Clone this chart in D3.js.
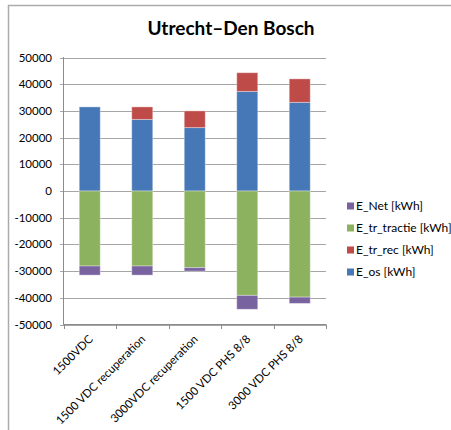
<!DOCTYPE html>
<meta charset="utf-8">
<title>Utrecht-Den Bosch</title>
<style>

body {
  margin: 0px;
  background: #fff;
}

text {
  font-family: Lato, "Open Sans", sans-serif;
  fill: #000;
}

.grid line {
  stroke: #a6a6a6;
  stroke-width: 1px;
}

</style>

<script src="https://d3js.org/d3.v7.min.js"></script>

<body>

<script>

var width = 451, height = 430;

// chart data
var categories = ["1500VDC", "1500 VDC recuperation", "3000VDC recuperation", "1500 VDC PHS 8/8", "3000 VDC PHS 8/8"];
var E_os = [31500, 26800, 23750, 37300, 33200];
var E_tr_rec = [0, 4700, 6250, 7000, 8800];
var E_tr_tractie = [-28100, -28100, -28700, -39100, -39750];
var E_Net = [-3400, -3400, -1300, -5200, -2350];
var yTicks = [-50000, -40000, -30000, -20000, -10000, 0, 10000, 20000, 30000, 40000, 50000];

var seriesNames = ["E_os [kWh]", "E_tr_rec [kWh]", "E_tr_tractie [kWh]", "E_Net [kWh]"];
var seriesValues = [E_os, E_tr_rec, E_tr_tractie, E_Net];
var seriesColors = ["#4677b6", "#be4b48", "#8cb25f", "#7862a0"];

var rows = categories.map(function(c, i) {
  var r = { cat: c };
  seriesNames.forEach(function(s, j) { r[s] = seriesValues[j][i]; });
  return r;
});

var svg = d3.select("body").append("svg")
    .attr("width", width)
    .attr("height", height);

// outer chart frame
svg.append("rect")
    .attr("x", 8.5)
    .attr("y", 5.5)
    .attr("width", 460)
    .attr("height", 460)
    .attr("fill", "none")
    .attr("stroke", "#ababab")
    .attr("stroke-width", 1.5);

var x = d3.scaleBand()
    .domain(categories)
    .range([63.5, 326])
    .paddingInner(0.6)
    .paddingOuter(0.3);

var y = d3.scaleLinear()
    .domain([-50000, 50000])
    .range([324.5, 57.5]);

// gridlines
svg.append("g")
    .attr("class", "grid")
  .selectAll("line")
    .data(yTicks)
  .enter().append("line")
    .attr("x1", 60)
    .attr("x2", 326)
    .attr("y1", function(d) { return Math.round(y(d)) + 0.5; })
    .attr("y2", function(d) { return Math.round(y(d)) + 0.5; });

// y labels
svg.append("g")
  .selectAll("text")
    .data(yTicks)
  .enter().append("text")
    .attr("x", 52)
    .attr("y", function(d) { return y(d); })
    .attr("dy", "0.35em")
    .attr("text-anchor", "end")
    .style("font-size", "11.5px")
    .text(function(d) { return d; });

// stacked bars
var stack = d3.stack()
    .keys(seriesNames)
    .offset(d3.stackOffsetDiverging);

var layers = stack(rows);

svg.append("g")
  .selectAll("g")
    .data(layers)
  .enter().append("g")
    .attr("fill", function(d, i) { return seriesColors[i]; })
  .selectAll("rect")
    .data(function(d) { return d; })
  .enter().append("rect")
    .attr("x", function(d) { return x(d.data.cat); })
    .attr("width", x.bandwidth())
    .attr("y", function(d) { return y(Math.max(d[0], d[1])); })
    .attr("height", function(d) { return Math.abs(y(d[0]) - y(d[1])); })
    .attr("stroke", "rgba(255,255,255,0.35)")
    .attr("stroke-width", 1);

// y axis line
svg.append("line")
    .attr("x1", 63.5).attr("x2", 63.5)
    .attr("y1", 57).attr("y2", 325)
    .attr("stroke", "#8c8c8c");

// x axis line at bottom with ticks at category boundaries
svg.append("line")
    .attr("x1", 63).attr("x2", 326)
    .attr("y1", 324.5).attr("y2", 324.5)
    .attr("stroke", "#8c8c8c");

var bounds = d3.range(categories.length + 1).map(function(i) { return 63.5 + i * x.step(); });
svg.append("g")
  .selectAll("line")
    .data(bounds)
  .enter().append("line")
    .attr("x1", function(d) { return Math.round(d) + 0.5; })
    .attr("x2", function(d) { return Math.round(d) + 0.5; })
    .attr("y1", 324.5)
    .attr("y2", 329)
    .attr("stroke", "#8c8c8c");

// x labels, rotated
svg.append("g")
  .selectAll("text")
    .data(categories)
  .enter().append("text")
    .attr("transform", function(d) {
      return "translate(" + (x(d) + x.bandwidth() / 2 + 1) + ",337) rotate(-45)";
    })
    .attr("text-anchor", "end")
    .attr("dy", "0.35em")
    .style("font-size", "11.5px")
    .text(function(d) { return d; });

// title
svg.append("text")
    .attr("x", 231)
    .attr("y", 35)
    .attr("text-anchor", "middle")
    .style("font-size", "19px")
    .style("font-weight", "bold")
    .text("Utrecht\u2013Den Bosch");

// legend, reversed order as in the original
var legend = svg.append("g")
  .selectAll("g")
    .data(seriesNames.slice().reverse())
  .enter().append("g")
    .attr("transform", function(d, i) { return "translate(347," + (206 + i * 22) + ")"; });

legend.append("rect")
    .attr("x", 0)
    .attr("y", -3.5)
    .attr("width", 7)
    .attr("height", 7)
    .attr("fill", function(d) { return seriesColors[seriesNames.indexOf(d)]; });

legend.append("text")
    .attr("x", 9)
    .attr("dy", "0.35em")
    .style("font-size", "12px")
    .text(function(d) { return d; });

</script>
